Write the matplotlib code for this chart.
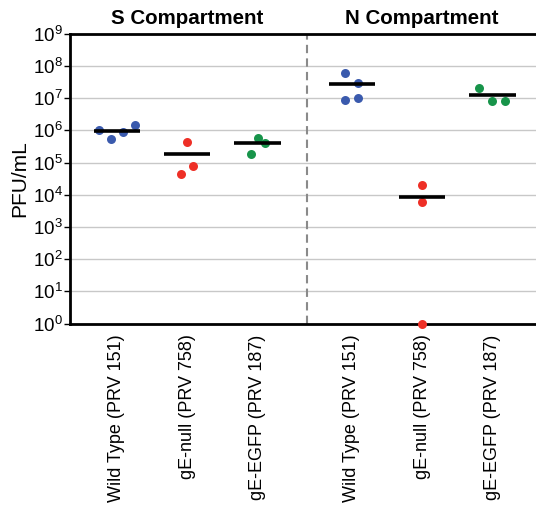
import numpy as np
import matplotlib.pyplot as plt
from matplotlib.ticker import FixedLocator

plt.rcParams['font.family'] = ['Liberation Sans', 'DejaVu Sans']
plt.rcParams['mathtext.fontset'] = 'custom'
plt.rcParams['mathtext.rm'] = 'Liberation Sans'
plt.rcParams['mathtext.it'] = 'Liberation Sans:italic'
plt.rcParams['mathtext.bf'] = 'Liberation Sans:bold'

# data (PFU/mL per replicate)
labels = ["Wild Type (PRV 151)", "gE-null (PRV 758)", "gE-EGFP (PRV 187)"] * 2
s_wt = [1.0e6, 5.5e5, 8.7e5, 1.45e6]
s_null = [4.2e5, 7.6e4, 4.4e4]
s_egfp = [5.9e5, 4.0e5, 1.8e5]
n_wt = [5.9e7, 2.85e7, 8.7e6, 1.04e7]
n_null = [1.94e4, 6.1e3, 1.0]
n_egfp = [2.0e7, 8.3e6, 8.3e6]
groups = [s_wt, s_null, s_egfp, n_wt, n_null, n_egfp]
compartments = ["S Compartment", "N Compartment"]

# layout: horizontal spread of replicate dots, group positions
positions = [0, 1, 2, 3.34, 4.34, 5.34]
jitter = [
    [-0.25, -0.085, 0.085, 0.256],
    [-0.006, 0.085, -0.095],
    [0.006, 0.1, -0.09],
    [-0.095, 0.09, -0.095, 0.09],
    [0.0, 0.0, 0.0],
    [-0.185, 0.0, 0.185],
]
colors = ["#3a5aad", "#ee2f26", "#17944a"] * 2

fig = plt.figure(figsize=(5.36, 5.12), dpi=100)
ax = fig.add_axes([70 / 536, 1 - 323.5 / 512, 466 / 536, (323.5 - 33.7) / 512])

for pos, vals, jit, col in zip(positions, groups, jitter, colors):
    xs = [pos + j for j in jit]
    ax.scatter(xs, vals, s=42, color=col, zorder=4, linewidths=0, clip_on=False)
    ax.hlines(np.mean(vals), pos - 0.33, pos + 0.33, color="black", lw=2.6, zorder=5)

ax.set_yscale("log")
ax.set_ylim(1, 1e9)
ax.set_xlim(-0.668, 5.96)
ax.yaxis.set_major_locator(FixedLocator([10.0 ** k for k in range(10)]))
ax.yaxis.set_minor_locator(FixedLocator([]))
ax.set_yticklabels([r"$10^{%d}$" % k for k in range(10)], fontsize=13.5)
ax.grid(axis="y", color="#c8c8c8", lw=1, zorder=0)
ax.set_axisbelow(True)

ax.set_xticks(positions)
ax.set_xticklabels(labels, rotation=90, fontsize=13)
ax.tick_params(axis="x", length=0, pad=8)
ax.tick_params(axis="y", length=4, width=1, pad=1)

ax.axvline(2.70, color="#8a8a8a", lw=1.5, ls=(0, (4, 2.5)), zorder=1)

for side in ["left", "top", "bottom"]:
    ax.spines[side].set_linewidth(2)
ax.spines["right"].set_visible(False)

ax.set_ylabel("PFU/mL", fontsize=15, labelpad=3)

for i, name in enumerate(compartments):
    mid = np.mean(positions[3 * i:3 * i + 3])
    ax.text(mid, 1.5e9, name, ha="center", va="bottom",
            fontsize=14.8, fontweight="bold")

fig.savefig("out.png", dpi=100)
